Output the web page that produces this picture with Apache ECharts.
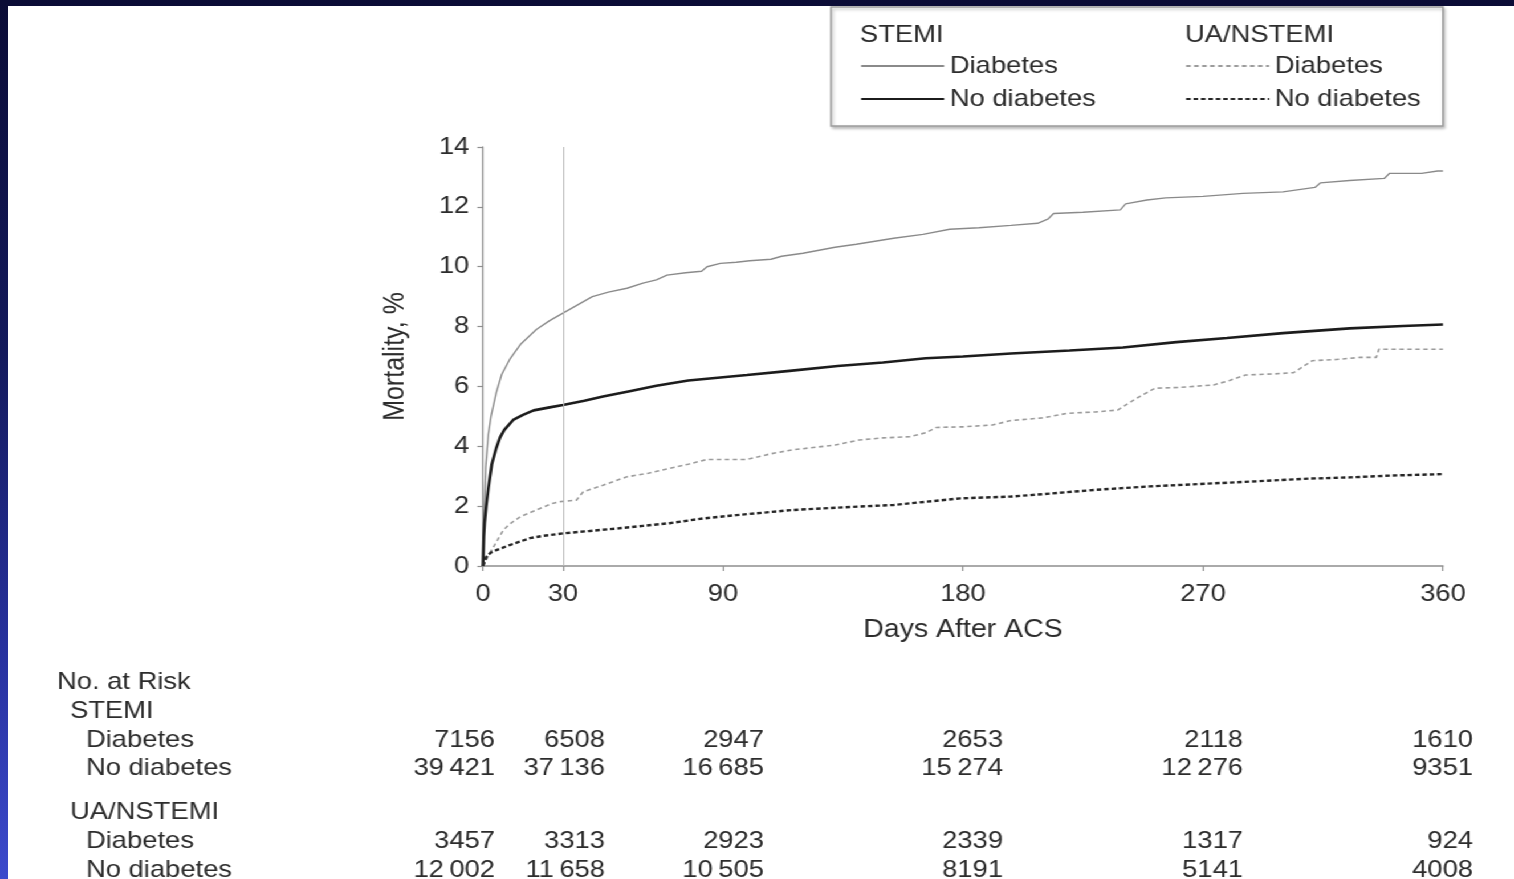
<!DOCTYPE html>
<html>
<head>
<meta charset="utf-8">
<script src="https://cdn.jsdelivr.net/npm/echarts@6/dist/echarts.min.js"></script>
<style>
  html, body { margin: 0; padding: 0; width: 1514px; height: 879px; overflow: hidden;
    background: linear-gradient(to bottom, #0b0c36 0%, #141a5c 40%, #2832a0 75%, #3c4acc 100%); }
  #chart { position: absolute; left: 8px; top: 6px; height: 873px; background: #ffffff;
    transform-origin: 0 0; }
</style>
</head>
<body>
<div id="chart"></div>
<script>
// ---------------- data ----------------
const xTicks = [0, 30, 90, 180, 270, 360];
const yTicks = [0, 2, 4, 6, 8, 10, 12, 14];

const stemiDiabDays = [0, 0.5, 1, 2, 3, 5, 7, 10, 14, 20, 25, 30, 35, 41, 47, 54, 60, 65, 69, 76, 82, 84, 89, 95, 100, 108, 112, 120, 132, 140, 154, 165, 175, 186, 198, 208, 212, 214, 225, 239, 241, 249, 256, 270, 285, 300, 312, 314, 325, 338, 340, 352, 358, 360];
const stemiDiabVals = [0, 2.0, 3.3, 4.4, 5.0, 5.8, 6.4, 6.9, 7.4, 7.9, 8.2, 8.45, 8.7, 9.0, 9.15, 9.28, 9.45, 9.56, 9.72, 9.8, 9.85, 10.0, 10.11, 10.15, 10.2, 10.25, 10.35, 10.45, 10.65, 10.75, 10.95, 11.08, 11.25, 11.3, 11.38, 11.45, 11.6, 11.78, 11.82, 11.9, 12.1, 12.23, 12.3, 12.35, 12.45, 12.5, 12.65, 12.8, 12.88, 12.95, 13.12, 13.12, 13.2, 13.2];

const stemiNoDiabDays = [0, 0.3, 0.6, 1.2, 2, 3.3, 5, 6.4, 8, 11.3, 15, 19, 25, 30, 38, 45, 55, 65, 77, 89, 99, 115, 133, 150, 166, 180, 198, 220, 240, 260, 279, 300, 325, 345, 360];
const stemiNoDiabVals = [0, 1.0, 1.45, 2.0, 2.6, 3.4, 3.95, 4.3, 4.55, 4.88, 5.05, 5.2, 5.3, 5.38, 5.52, 5.66, 5.84, 6.02, 6.2, 6.3, 6.38, 6.52, 6.68, 6.8, 6.94, 7.0, 7.1, 7.2, 7.3, 7.48, 7.62, 7.78, 7.94, 8.02, 8.07];

const uaDiabDays = [0, 2, 5, 7.6, 10, 14, 20, 26, 29, 35, 37.6, 45, 54, 62, 70, 77, 84, 99, 108, 116, 132, 141, 150, 160, 166, 170, 180, 191, 198, 210, 219, 230, 238, 245, 252, 262, 274, 280, 286, 297, 304, 311, 320, 329, 335, 336, 360];
const uaDiabVals = [0, 0.35, 0.8, 1.2, 1.4, 1.65, 1.87, 2.09, 2.15, 2.2, 2.48, 2.7, 2.98, 3.1, 3.26, 3.4, 3.56, 3.56, 3.75, 3.88, 4.04, 4.21, 4.28, 4.32, 4.45, 4.63, 4.65, 4.71, 4.86, 4.95, 5.1, 5.15, 5.21, 5.6, 5.94, 5.97, 6.05, 6.2, 6.38, 6.42, 6.46, 6.86, 6.9, 6.97, 6.97, 7.24, 7.24];

const uaNoDiabDays = [0, 1.25, 3, 5, 10, 17.6, 22, 30, 40, 51, 60, 70, 82.6, 95, 116, 135, 154, 179, 198, 210, 229, 250, 269, 290, 310, 325, 340, 360];
const uaNoDiabVals = [0, 0.31, 0.45, 0.53, 0.7, 0.93, 1.0, 1.09, 1.17, 1.26, 1.34, 1.43, 1.59, 1.7, 1.87, 1.96, 2.04, 2.26, 2.32, 2.4, 2.54, 2.66, 2.74, 2.83, 2.92, 2.96, 3.02, 3.07];

const riskDays = [0, 30, 90, 180, 270, 360];
const riskStemiDiab = [7156, 6508, 2947, 2653, 2118, 1610];
const riskStemiNoDiab = [39421, 37136, 16685, 15274, 12276, 9351];
const riskUaDiab = [3457, 3313, 2923, 2339, 1317, 924];
const riskUaNoDiab = [12002, 11658, 10505, 8191, 5141, 4008];

const seriesNames = ['STEMI|Diabetes', 'STEMI|No diabetes', 'UA/NSTEMI|Diabetes', 'UA/NSTEMI|No diabetes'];

// ---------------- layout ----------------
const S = 1.14;                 // horizontal stretch of the original figure
const W = (1514 - 8) / S;
const H = 873;
const px = X => (X - 8) / S;    // screen x -> chart x
const py = Y => Y - 6;          // screen y -> chart y
const FONT = "'Liberation Sans', Arial, Helvetica, sans-serif";
const TXT = '#2c2c2c';
const AX = '#8f8f8f';
const TY = 2;                   // text baseline nudge

const el = document.getElementById('chart');
el.style.width = W + 'px';
el.style.transform = 'scaleX(' + S + ')';

const zip = (d, v) => d.map((x, i) => [x, v[i]]);
const fmt = n => { const s = String(n); return s.length > 4 ? s.slice(0, s.length - 3) + '\u2009' + s.slice(-3) : s; };

const chart = echarts.init(el, null, { renderer: 'canvas' });

const graphics = [];
// legend box
graphics.push({ type: 'rect', z: 1, shape: { x: px(831), y: py(7), width: px(1443) - px(831), height: 119 },
  style: { fill: '#fff', stroke: '#9c9c9c', lineWidth: 1.5, shadowColor: 'rgba(0,0,0,0.25)', shadowBlur: 3, shadowOffsetX: 1.5, shadowOffsetY: 2 } });
graphics.push({ type: 'text', z: 5, x: px(860), y: py(33 + TY), style: { text: 'STEMI', font: '24px ' + FONT, fill: TXT, align: 'left', verticalAlign: 'middle' } });
graphics.push({ type: 'text', z: 5, x: px(1185), y: py(33 + TY), style: { text: 'UA/NSTEMI', font: '24px ' + FONT, fill: TXT, align: 'left', verticalAlign: 'middle' } });

// No. at Risk table
const rowLabels = [
  ['No. at Risk', 57, 680], ['STEMI', 70, 709], ['Diabetes', 86, 738], ['No diabetes', 86, 766],
  ['UA/NSTEMI', 70, 810], ['Diabetes', 86, 839], ['No diabetes', 86, 868]
];
rowLabels.forEach(r => graphics.push({ type: 'text', x: px(r[1]), y: py(r[2] + TY),
  style: { text: r[0], font: '24px ' + FONT, fill: TXT, align: 'left', verticalAlign: 'middle' } }));
const colRight = [495, 605, 764, 1003, 1243, 1473];
const riskRows = [[riskStemiDiab, 738], [riskStemiNoDiab, 766], [riskUaDiab, 839], [riskUaNoDiab, 868]];
riskRows.forEach(r => r[0].forEach((n, i) => graphics.push({ type: 'text', x: px(colRight[i]), y: py(r[1] + TY),
  style: { text: fmt(n), font: '24px ' + FONT, fill: TXT, align: 'right', verticalAlign: 'middle' } })));

const lineDefs = [
  { d: zip(stemiDiabDays, stemiDiabVals), color: '#8a8a8a', width: 1.4, type: 'solid' },
  { d: zip(stemiNoDiabDays, stemiNoDiabVals), color: '#1c1c1c', width: 2.6, type: 'solid' },
  { d: zip(uaDiabDays, uaDiabVals), color: '#9c9c9c', width: 1.6, type: [4, 3] },
  { d: zip(uaNoDiabDays, uaNoDiabVals), color: '#262626', width: 2.4, type: [4, 2.5] }
];

const series = lineDefs.map((l, i) => ({
  name: seriesNames[i], type: 'line', data: l.d, symbol: 'none', showSymbol: false,
  smooth: false, animation: false, z: 3,
  lineStyle: { color: l.color, width: l.width, type: l.type },
  itemStyle: { color: l.color }
}));
series[0].markLine = { silent: true, symbol: 'none', animation: false, label: { show: false },
  lineStyle: { color: '#b8b8b8', width: 1, type: 'solid' }, data: [{ xAxis: 30 }] };

const legendCommon = { orient: 'vertical', padding: 0, itemWidth: px(943) - px(860), itemHeight: 14, itemGap: 9,
  itemStyle: { opacity: 0 },
  textStyle: { fontSize: 24, fontFamily: FONT, color: TXT, lineHeight: 24, padding: [0, 0, 0, 0] },
  formatter: n => n.split('|')[1], selectedMode: false, z: 6 };

chart.setOption({
  animation: false,
  textStyle: { fontFamily: FONT },
  grid: { left: px(483), right: W - px(1443), top: py(147), bottom: H - py(566), containLabel: false },
  legend: [
    Object.assign({}, legendCommon, { left: px(860), top: py(54), data: [seriesNames[0], seriesNames[1]] }),
    Object.assign({}, legendCommon, { left: px(1185), top: py(54), data: [seriesNames[2], seriesNames[3]] })
  ],
  xAxis: {
    type: 'value', min: 0, max: 360,
    name: 'Days After ACS', nameLocation: 'middle', nameGap: 52,
    nameTextStyle: { fontSize: 25, color: TXT, fontFamily: FONT },
    axisLine: { show: true, lineStyle: { color: AX, width: 1.5 } },
    axisTick: { show: true, length: 5, customValues: xTicks, lineStyle: { color: AX, width: 1.2 } },
    axisLabel: { fontSize: 24, color: TXT, margin: 16, customValues: xTicks, fontFamily: FONT },
    splitLine: { show: false }
  },
  yAxis: {
    type: 'value', min: 0, max: 14, interval: 2,
    name: 'Mortality, %', nameLocation: 'middle', nameGap: 64,
    nameTextStyle: { fontSize: 25, color: TXT, fontFamily: FONT },
    axisLine: { show: true, lineStyle: { color: AX, width: 1.3 } },
    axisTick: { show: true, length: 5, lineStyle: { color: AX, width: 1.2 } },
    axisLabel: { fontSize: 24, color: TXT, margin: 12, fontFamily: FONT, padding: [3, 0, 0, 0], formatter: v => yTicks.includes(v) ? String(v) : '' },
    splitLine: { show: false }
  },
  graphic: graphics,
  series: series
});
</script>
</body>
</html>
